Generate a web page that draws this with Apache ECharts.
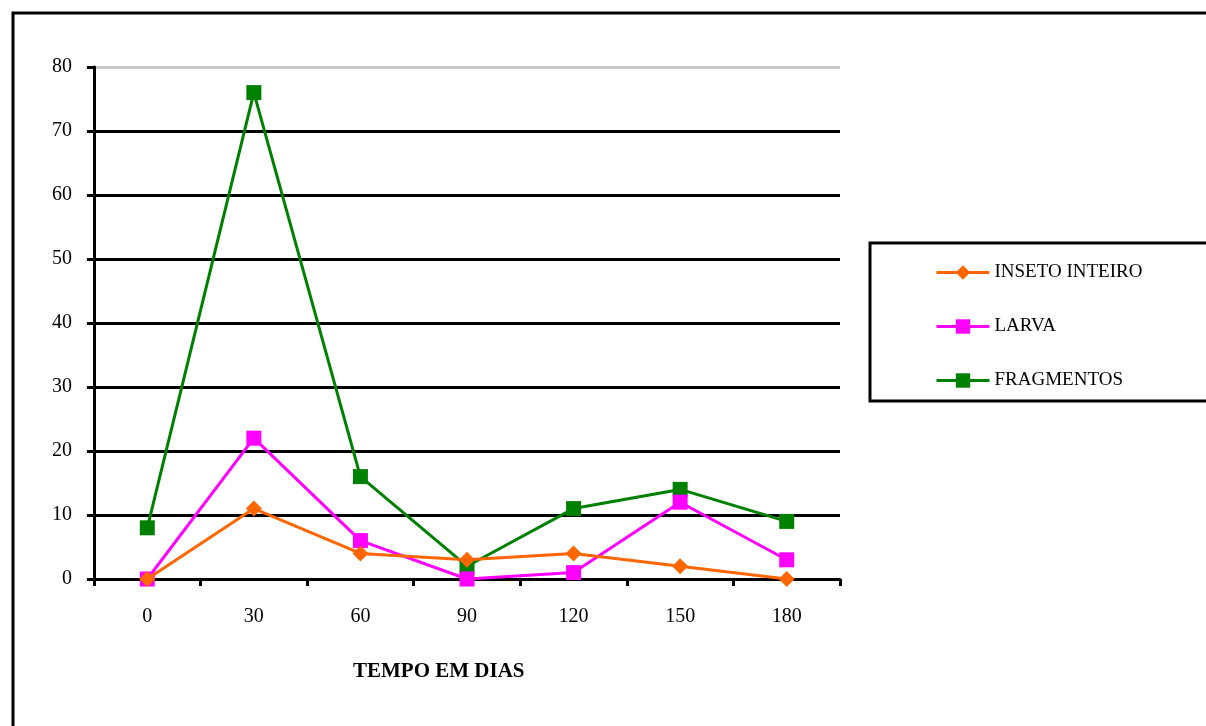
<!DOCTYPE html>
<html>
<head>
<meta charset="utf-8">
<script src="https://cdn.jsdelivr.net/npm/echarts@6/dist/echarts.min.js"></script>
<style>html,body{margin:0;padding:0;background:#fff;}#c{width:1206px;height:726px;}</style>
</head>
<body>
<div id="c"></div>
<script>
const categories = ['0', '30', '60', '90', '120', '150', '180'];
const insetoInteiro = [0, 11, 4, 3, 4, 2, 0];
const larva = [0, 22, 6, 0, 1, 12, 3];
const fragmentos = [8, 76, 16, 2, 11, 14, 9];
const seriesNames = ['INSETO INTEIRO', 'LARVA', 'FRAGMENTOS'];
const xAxisTitle = 'TEMPO EM DIAS';

const font = 'Liberation Serif, Times New Roman, serif';
const chart = echarts.init(document.getElementById('c'), null, {renderer: 'canvas'});
const gridColors = ['#000','#000','#000','#000','#000','#000','#000','#000','#c8c8c8'];
chart.setOption({
  animation: false,
  backgroundColor: '#fff',
  grid: {left: 94, right: 366, top: 67, bottom: 147},
  legend: {
    orient: 'vertical', left: 935, top: 263, itemGap: 35, padding: 0,
    itemWidth: 53, itemHeight: 18,
    lineStyle: {width: 3},
    textStyle: {fontFamily: font, fontSize: 19, color: '#000'},
    data: seriesNames
  },
  xAxis: {
    type: 'category', data: categories, boundaryGap: true,
    axisLine: {lineStyle: {color: '#000', width: 3}},
    axisTick: {show: true, length: 7, lineStyle: {color: '#000', width: 3}, alignWithLabel: false},
    axisLabel: {fontFamily: font, fontSize: 20, color: '#000', margin: 28}
  },
  yAxis: {
    type: 'value', min: 0, max: 80, interval: 10,
    axisLine: {show: true, lineStyle: {color: '#000', width: 3}},
    axisTick: {show: true, length: 7, lineStyle: {color: '#000', width: 3}},
    axisLabel: {fontFamily: font, fontSize: 20, color: '#000', margin: 22, padding: [4, 0, 0, 0]},
    splitLine: {show: true, lineStyle: {color: gridColors, width: 3}}
  },
  graphic: [
    {type: 'rect', shape: {x: 13, y: 13, width: 1300, height: 800}, style: {fill: 'none', stroke: '#000', lineWidth: 3}, z: 100},
    {type: 'rect', shape: {x: 870, y: 243, width: 400, height: 158}, style: {fill: 'none', stroke: '#000', lineWidth: 3}, z: 100},
    {type: 'text', left: 353, top: 661, style: {text: xAxisTitle, font: 'bold 21px ' + font, fill: '#000'}}
  ],
  series: [
    {name: seriesNames[0], type: 'line', data: insetoInteiro, symbol: 'diamond', symbolSize: 16,
     itemStyle: {color: '#ff6600'}, lineStyle: {color: '#ff6600', width: 3}, z: 5},
    {name: seriesNames[1], type: 'line', data: larva, symbol: 'rect', symbolSize: 15,
     itemStyle: {color: '#ff00ff'}, lineStyle: {color: '#ff00ff', width: 3}, z: 4},
    {name: seriesNames[2], type: 'line', data: fragmentos, symbol: 'rect', symbolSize: 15,
     itemStyle: {color: '#008000'}, lineStyle: {color: '#008000', width: 3}, z: 3}
  ]
});
</script>
</body>
</html>
